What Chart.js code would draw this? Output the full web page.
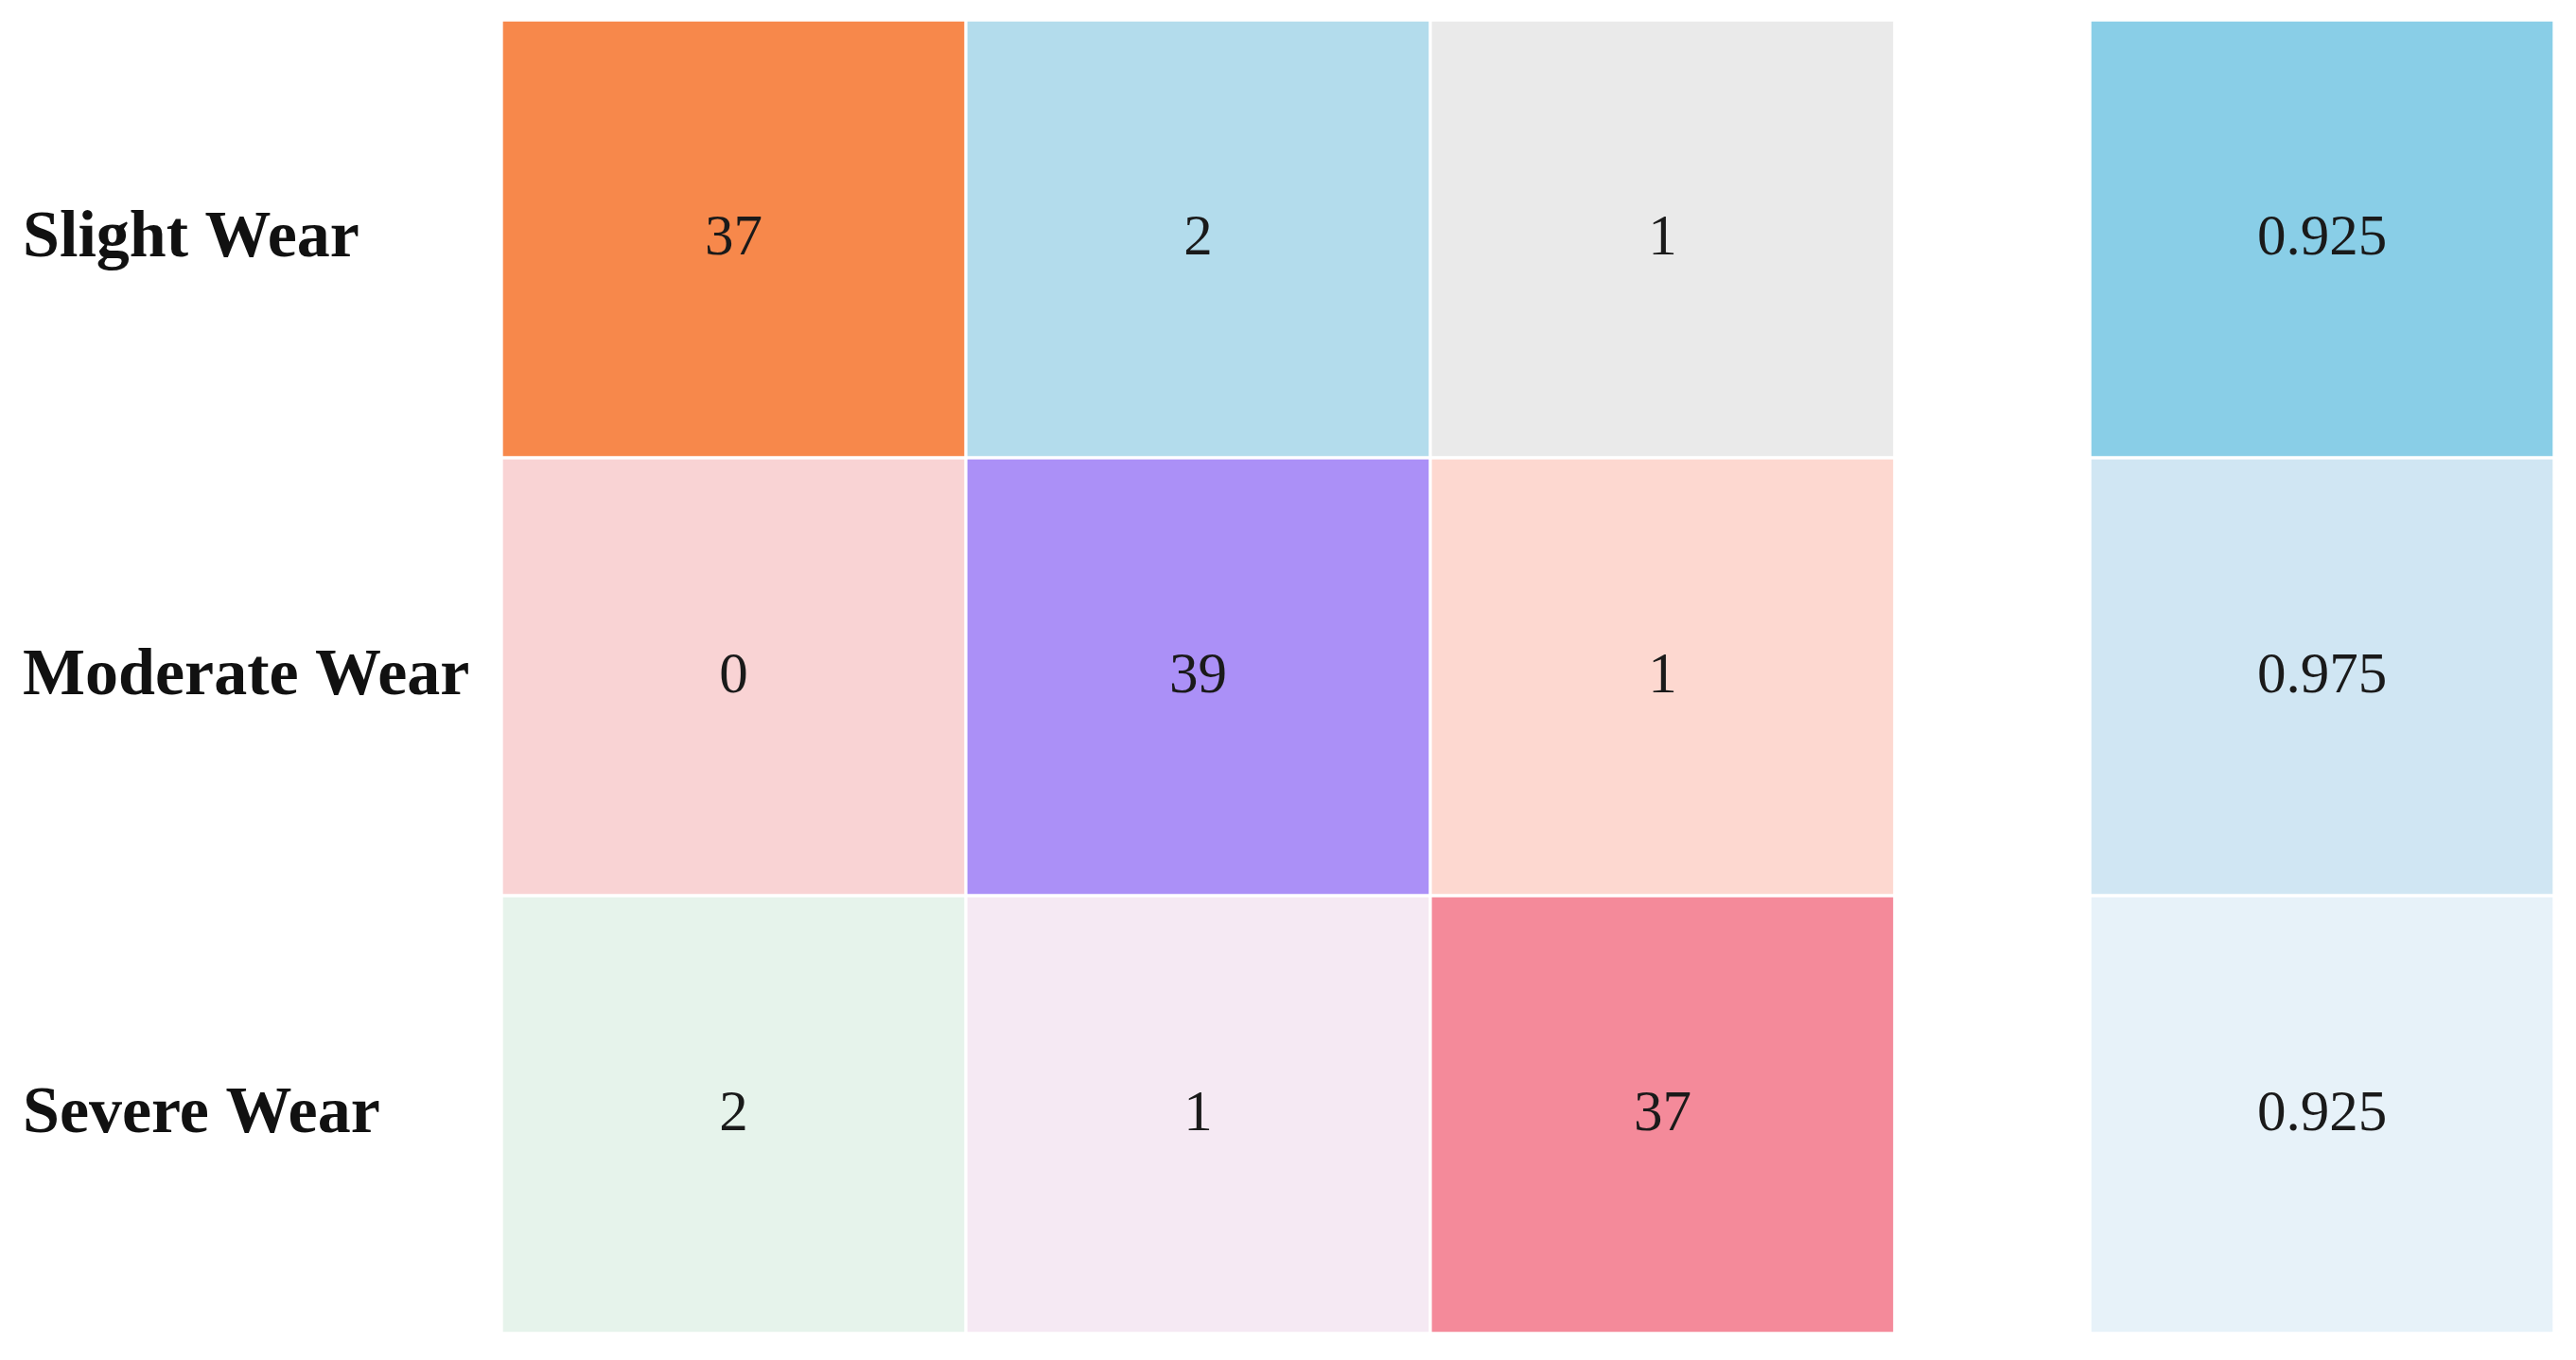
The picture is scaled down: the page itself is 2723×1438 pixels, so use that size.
<!DOCTYPE html>
<html>
<head>
<meta charset="utf-8">
<script src="https://cdn.jsdelivr.net/npm/chart.js@4.4.1/dist/chart.umd.min.js"></script>
<style>
	html, body { margin: 0; padding: 0; background: #ffffff; }
	#wrap { width: 2723px; height: 1438px; position: relative; }
</style>
</head>
<body>
<div id="wrap"><canvas id="grafico"></canvas></div>
<script>
// Rótulos das linhas (classe real)
const rotulos = ["Slight Wear", "Moderate Wear", "Severe Wear"];

// Matriz de confusão, uma linha por classe
const linhaSlight = [37, 2, 1];
const linhaModerate = [0, 39, 1];
const linhaSevere = [2, 1, 37];

// Acurácia por classe (coluna da direita)
const acuracia = [0.925, 0.975, 0.925];

// Cores de cada célula (linha a linha) e da coluna de acurácia
const coresCelulas = [
	["#F7884B", "#B3DCEC", "#EAEAEA"],
	["#F9D3D4", "#AB90F7", "#FDD8D0"],
	["#E6F3EB", "#F5E9F3", "#F48A9A"],
];
const coresAcuracia = ["#89CEE7", "#D0E6F3", "#E7F2F9"];

const matriz = [linhaSlight, linhaModerate, linhaSevere];
const espaco = 0.42; // distância entre a matriz e a coluna de acurácia

// Um dataset por coluna: barras flutuantes horizontais
const datasets = [];
for (let j = 0; j < 3; j++) {
	datasets.push({
		label: "col" + j,
		data: matriz.map(() => [j, j + 1]),
		valores: matriz.map((linha) => String(linha[j])),
		backgroundColor: coresCelulas.map((linha) => linha[j]),
	});
}
datasets.push({
	label: "acc",
	data: acuracia.map(() => [3 + espaco, 4 + espaco]),
	valores: acuracia.map((v) => v.toFixed(3)),
	backgroundColor: coresAcuracia,
});
datasets.forEach((ds) => {
	ds.borderColor = "#ffffff";
	ds.borderWidth = 2;
	ds.borderSkipped = false;
	ds.categoryPercentage = 1;
	ds.barPercentage = 1;
	ds.grouped = false;
});

// Escreve o valor no centro de cada célula
const textoCelulas = {
	id: "textoCelulas",
	afterDatasetsDraw(chart) {
		const c = chart.ctx;
		c.save();
		c.font = "61px 'Liberation Serif'";
		c.fillStyle = "#1a1a1a";
		c.textAlign = "center";
		c.textBaseline = "middle";
		chart.data.datasets.forEach((ds, i) => {
			chart.getDatasetMeta(i).data.forEach((el, k) => {
				const p = el.getProps(["x", "y", "base"], true);
				c.fillText(ds.valores[k], (p.x + p.base) / 2, p.y);
			});
		});
		c.restore();
	},
};

const ctx = document.getElementById("grafico");

new Chart(ctx, {
	type: "bar",
	data: {
		labels: rotulos,
		datasets: datasets,
	},
	options: {
		indexAxis: "y",
		responsive: true,
		maintainAspectRatio: false,
		animation: false,
		layout: {
			padding: { left: 24, right: 23, top: 21, bottom: 28 },
		},
		plugins: {
			legend: { display: false },
			tooltip: { enabled: false },
		},
		scales: {
			x: {
				type: "linear",
				min: 0,
				max: 4 + espaco,
				display: false,
			},
			y: {
				grid: { display: false },
				border: { display: false },
				afterFit: function (scale) {
					// largura fixa e sem folga extra em cima/embaixo
					scale.width = 530 - 24;
					scale.paddingTop = 0;
					scale.paddingBottom = 0;
				},
				ticks: {
					crossAlign: "far",
					color: "#111111",
					font: {
						family: "'Liberation Serif'",
						size: 70,
						weight: "bold",
					},
				},
			},
		},
	},
	plugins: [textoCelulas],
});
</script>
</body>
</html>
